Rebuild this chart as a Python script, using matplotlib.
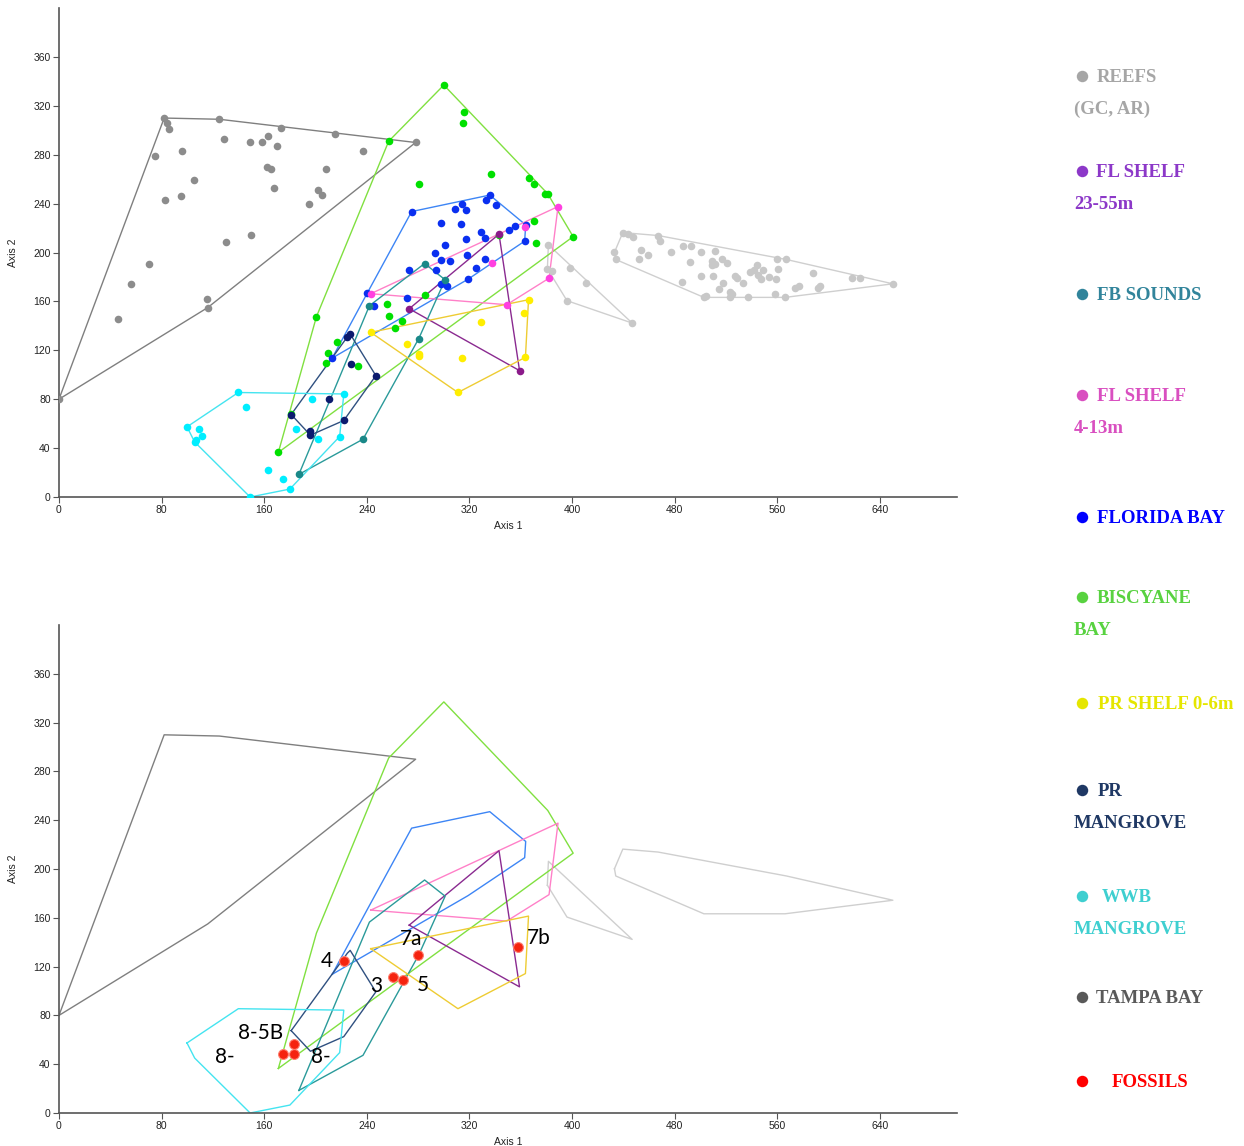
import numpy as np
import matplotlib
matplotlib.use('Agg')
import matplotlib.pyplot as plt

# ---- data (Axis 1, Axis 2) ----
tampa_x = [0, 82, 84, 86, 75, 96, 83, 95, 105, 70, 56, 46, 115, 116, 125, 129, 130, 150, 149,
           158, 163, 170, 173, 162, 165, 168, 195, 202, 205, 208, 215, 237, 278]
tampa_y = [80, 310, 306, 301, 279, 283, 243, 246, 259, 191, 174, 146, 162, 155, 309, 293, 209, 214, 290,
           290, 295, 287, 302, 270, 268, 253, 240, 251, 247, 268, 297, 283, 290]

reefs_a_x = [381.5, 380.7, 384.6, 398, 411, 396, 446.8]
reefs_a_y = [206.3, 186.7, 184.5, 187.2, 175.3, 160.6, 142.3]

reefs_b_x = [439.5, 443.4, 447.8, 467, 468.8, 433, 434, 453.8, 452, 459, 476.9, 486.8, 493, 500.8, 511,
             492, 486, 509.4, 511, 509.4, 517, 521, 500.8, 509.7, 517.5, 514.8, 527, 528.4, 533, 523,
             524.8, 523, 502.7, 504.7, 536.9, 538.3, 541.4, 544, 544.5, 549, 547, 553.8, 559, 560, 567,
             560.8, 558, 566, 574, 577, 588, 592, 593.4, 617.8, 624.6, 650]
reefs_b_y = [216.3, 215, 212.5, 213.9, 209.2, 200.2, 194.3, 202.2, 194.3, 197.6, 200.2, 205.4, 205.4, 200.2, 201.4,
             192.4, 175.5, 192.9, 190.4, 189.4, 194.3, 191.3, 180.4, 180.4, 175, 170.4, 181.2, 179.3, 175.3, 167.6,
             166, 164, 163.3, 164.3, 164, 183.7, 185.9, 189.4, 182, 185.3, 178, 179.8, 178, 194.3, 194.3,
             186.4, 166.3, 163.3, 171.2, 172.5, 183.4, 171.2, 172.5, 179.3, 179.3, 174.4]

biscayne_x = [300, 316, 315, 257, 281, 337, 366, 370, 379, 381, 370.6, 371.7, 400.8, 343, 200.7, 285,
              255.7, 257, 267.7, 261.7, 216.5, 209.5, 208, 232.9, 181, 171]
biscayne_y = [337, 315, 306, 291, 256, 264, 261, 256, 248, 248, 226, 208, 213, 214, 147.5, 165,
              157.5, 148, 143.7, 138, 127, 118, 110, 107.5, 68, 36.5]

flbay_x = [274.9, 335.8, 333, 314.5, 309, 317, 341, 297.9, 313.7, 351, 355.8, 363.8, 329, 332, 317.6,
           363, 301, 293, 318, 297.9, 305, 332, 324.9, 272.9, 294, 318.9, 297.6, 302.8, 271, 240.4,
           245.6, 213]
flbay_y = [233.5, 247, 243, 239.5, 235.6, 235, 239, 224, 223, 218.5, 221.8, 222.6, 217, 211.7, 211.4,
           209.3, 206, 200, 198, 193.5, 192.7, 194.5, 187.5, 185.3, 185.3, 178.2, 174.1, 173, 163, 167,
           156, 113.7]

shelf413_x = [389, 363, 337.9, 382, 349, 243]
shelf413_y = [237.6, 220.7, 191.6, 179, 157.3, 166.3]

shelf2355_x = [343, 273, 359]
shelf2355_y = [215, 154, 103.4]

fbsounds_x = [285, 301, 242, 280.4, 237, 187]
fbsounds_y = [191, 177.7, 156.5, 129.5, 47.3, 18.5]

prshelf_x = [366, 362.8, 363.6, 329, 311, 314, 280.4, 281, 271, 243]
prshelf_y = [161.4, 150.5, 114.3, 143.4, 85.5, 113.5, 115.4, 117, 125.4, 134.7]

prmang_x = [227, 224.8, 247, 228, 210.8, 181, 196, 196, 222]
prmang_y = [133.3, 131, 99.3, 109, 80, 67.5, 54, 50.6, 62.6]

wwb_x = [99.8, 139.8, 222, 145.8, 197, 109, 111.8, 105.8, 106.8, 184.8, 202, 218.8, 162.7, 175, 180, 149]
wwb_y = [57.4, 85.5, 84.3, 73.5, 80.5, 55.5, 50.3, 45, 46.3, 55.5, 47.6, 49.5, 22.3, 14.4, 6.5, 0]

fossil_x = [222, 279.7, 260.4, 268, 358, 183.5, 174.4, 183.5]
fossil_y = [124.4, 129.9, 111.5, 108.8, 136.1, 56.5, 48.5, 48.3]
fossil_lab = ['4', '7a', '3', '5', '7b', '8-5B', '8-', '8-']
fossil_off = [(-12, 0), (-5, 11.5), (-12, -6.7), (14.8, -3.6), (14.9, 6.8), (-24, 7.7), (-41.5, -2.2), (19, -2.4)]

# group: (x, y, point colour, hull colour)
groups = [
    (tampa_x, tampa_y, '#8c8c8c', '#7f7f7f'),
    (reefs_a_x, reefs_a_y, '#c8c8c8', '#cfcfcf'),
    (reefs_b_x, reefs_b_y, '#c8c8c8', '#cfcfcf'),
    (biscayne_x, biscayne_y, '#00e000', '#80e040'),
    (flbay_x, flbay_y, '#0a2ff0', '#3d85f5'),
    (shelf413_x, shelf413_y, '#ff40e0', '#ff80c8'),
    (shelf2355_x, shelf2355_y, '#8b1a8a', '#8a2a90'),
    (fbsounds_x, fbsounds_y, '#1a8888', '#2a9a9a'),
    (prshelf_x, prshelf_y, '#ffee00', '#eecc33'),
    (prmang_x, prmang_y, '#0b1a6e', '#2f5080'),
    (wwb_x, wwb_y, '#00eeff', '#44e4f0'),
]

leg_line1 = ['REEFS', 'FL SHELF', 'FB SOUNDS', 'FL SHELF', 'FLORIDA BAY', 'BISCYANE',
             'PR SHELF 0-6m', 'PR', 'WWB', 'TAMPA BAY', 'FOSSILS']
leg_line2 = ['(GC, AR)', '23-55m', '', '4-13m', '', 'BAY', '', 'MANGROVE', 'MANGROVE', '', '']
leg_col = ['#a6a6a6', '#8c38c8', '#31849b', '#d94fc0', '#0000ff', '#58d240',
           '#e5e600', '#1f3864', '#3fcfd0', '#595959', '#ff0000']


def hull(xs, ys):
    pts = sorted(set(zip(xs, ys)))
    if len(pts) < 3:
        return pts

    def cross(o, a, b):
        return (a[0]-o[0])*(b[1]-o[1]) - (a[1]-o[1])*(b[0]-o[0])
    lo, up = [], []
    for p in pts:
        while len(lo) >= 2 and cross(lo[-2], lo[-1], p) <= 0:
            lo.pop()
        lo.append(p)
    for p in reversed(pts):
        while len(up) >= 2 and cross(up[-2], up[-1], p) <= 0:
            up.pop()
        up.append(p)
    h = lo[:-1] + up[:-1]
    return h + [h[0]]


def style_axes(ax, lab_y):
    ax.set_xlim(0, 700)
    ax.set_ylim(0, 400)
    ax.set_xticks(np.arange(0, 641, 80))
    ax.set_yticks(np.arange(0, 361, 40))
    for s in ['top', 'right']:
        ax.spines[s].set_visible(False)
    for s in ['left', 'bottom']:
        ax.spines[s].set_color('#555555')
        ax.spines[s].set_linewidth(1.2)
    ax.tick_params(direction='out', length=4, width=0.8, color='#555555',
                   labelsize=7.5, labelcolor='#222222', pad=2)
    for t in ax.get_xticklabels() + ax.get_yticklabels():
        t.set_family('Liberation Sans')
    ax.set_xlabel('Axis 1', fontsize=7.5, family='Liberation Sans', color='#222222')
    ax.set_ylabel('Axis 2', fontsize=7.5, family='Liberation Sans', color='#222222')
    ax.xaxis.set_label_coords(0.5, lab_y)
    ax.yaxis.set_label_coords(-0.046, 0.5)


fig = plt.figure(figsize=(12.44, 11.46), dpi=100, facecolor='w')
ax1 = fig.add_axes([0.0474, 0.5663, 0.7219, 0.4267])
ax2 = fig.add_axes([0.0474, 0.0288, 0.7219, 0.4258])

for (gx, gy, pc, lc) in groups:
    h = np.array(hull(gx, gy))
    ax1.plot(h[:, 0], h[:, 1], color=lc, lw=1.0, zorder=2)
    ax1.scatter(gx, gy, s=30, color=pc, lw=0, zorder=3)
    ax2.plot(h[:, 0], h[:, 1], color=lc, lw=1.0, zorder=2)

ax2.scatter(fossil_x, fossil_y, s=50, color='#f5230f', edgecolor='#ff8070', lw=0.8, zorder=4)
for fx, fy, lab, off in zip(fossil_x, fossil_y, fossil_lab, fossil_off):
    ax2.annotate(lab, (fx, fy), xytext=off, textcoords='offset points', ha='center', va='center',
                 fontsize=15, family='Lato', color='black', zorder=5)

style_axes(ax1, -0.049)
style_axes(ax2, -0.049)

# legend on the right
lax = fig.add_axes([0, 0, 1, 1])
lax.set_xlim(0, 1244)
lax.set_ylim(1146, 0)
lax.axis('off')
leg_y = [76, 171, 294, 395, 517, 597, 703, 790, 896, 997, 1081]
leg_tx = [1097, 1096, 1097, 1097, 1097, 1097, 1098, 1098, 1102, 1096, 1112]
for i, (t1, t2, c) in enumerate(zip(leg_line1, leg_line2, leg_col)):
    y = leg_y[i]
    lax.scatter([1082], [y], s=68, color=c, lw=0)
    lax.text(leg_tx[i], y + 6, t1, color=c, fontsize=13.5, family='Liberation Serif',
             weight='bold', va='baseline', ha='left')
    if t2:
        lax.text(1074, y + 38, t2, color=c, fontsize=13.5, family='Liberation Serif',
                 weight='bold', va='baseline', ha='left')

plt.savefig('out.png', dpi=100)
